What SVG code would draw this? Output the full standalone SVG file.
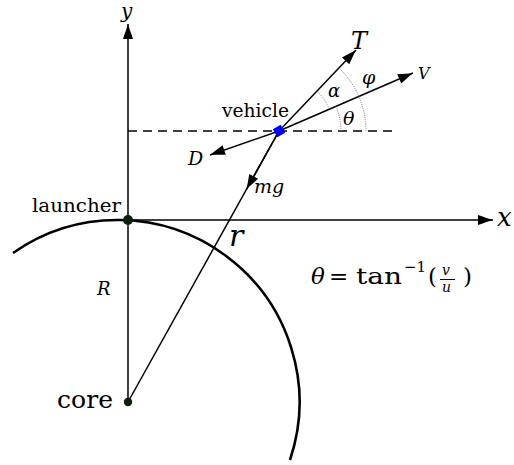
<svg xmlns="http://www.w3.org/2000/svg" width="514" height="465" viewBox="0 0 514 465">
<style>
text{font-family:"DejaVu Serif",serif;fill:#000}
.it{font-style:italic}
.ln{stroke:#000;stroke-width:1.5;fill:none}
.ang{stroke:#777;stroke-width:1;fill:none;stroke-dasharray:1 1.2}
</style>
<defs>
<marker id="ah" markerUnits="userSpaceOnUse" markerWidth="18" markerHeight="14" refX="0" refY="0" viewBox="-16 -7 18 14" orient="auto" overflow="visible">
<path d="M0,0 C-4,-1 -10,-3.5 -15,-5 L-15,5 C-10,3.5 -4,1 0,0Z" fill="#000"/>
</marker>
</defs>
<rect width="514" height="465" fill="#fff"/>
<g id="earth">
<path d="M13,253 A182,182 0 0 1 290,460" stroke="#000" stroke-width="2.6" fill="none"/>
</g>
<g id="connectors">
<line class="ln" x1="128" y1="402" x2="128" y2="24" marker-end="url(#ah)"/>
<line class="ln" x1="128" y1="220" x2="493" y2="220" marker-end="url(#ah)"/>
<line class="ln" x1="128" y1="131" x2="398" y2="131" stroke-dasharray="9 6" stroke-width="1.2"/>
<line class="ln" x1="128" y1="402" x2="279" y2="131"/>
<line class="ln" x1="279" y1="131" x2="246.4" y2="189.5" marker-end="url(#ah)"/>
<line class="ln" x1="279" y1="131" x2="356" y2="50" marker-end="url(#ah)"/>
<line class="ln" x1="279" y1="131" x2="413" y2="73" marker-end="url(#ah)"/>
<line class="ln" x1="279" y1="131" x2="210" y2="155" marker-end="url(#ah)"/>
<path class="ang" d="M341,131 A62,62 0 0 0 335.9,106.3"/>
<path class="ang" d="M329.4,109.1 A55,55 0 0 0 316.9,91.1"/>
<path class="ang" d="M366,131 A87,87 0 0 0 338.9,67.9"/>
</g>
<g id="launcher">
<circle cx="128" cy="220" r="5" fill="#0b1f0b"/>
<text x="32" y="212" font-size="19" textLength="89" lengthAdjust="spacingAndGlyphs">launcher</text>
</g>
<g id="core">
<circle cx="128" cy="402" r="4.2" fill="#0b1f0b"/>
<text x="57" y="408" font-size="25" textLength="56" lengthAdjust="spacingAndGlyphs">core</text>
</g>
<g id="vehicle">
<rect x="274.5" y="126.5" width="9" height="9" fill="#0000ff" transform="rotate(-30 279 131)"/>
<text x="222" y="117" font-size="19" textLength="67" lengthAdjust="spacingAndGlyphs">vehicle</text>
</g>
<g id="labels">
<text class="it" x="121" y="18" font-size="20">y</text>
<text class="it" x="497" y="226" font-size="26">x</text>
<text class="it" x="351" y="49" font-size="24">T</text>
<text class="it" x="418" y="79" font-size="16">V</text>
<text class="it" x="188" y="165" font-size="19">D</text>
<text class="it" x="254" y="193" font-size="19">mg</text>
<text class="it" x="362" y="84" font-size="19">φ</text>
<text class="it" x="328" y="97" font-size="18">α</text>
<text class="it" x="343" y="125" font-size="19">θ</text>
<text class="it" x="229" y="246" font-size="30">r</text>
<text class="it" x="97" y="295" font-size="18">R</text>
</g>
<g id="formula">
<text class="it" x="311" y="284" font-size="23">θ</text>
<text x="329" y="284" font-size="23">=</text>
<text x="356" y="284" font-size="23" textLength="46" lengthAdjust="spacingAndGlyphs">tan</text>
<text x="404" y="272" font-size="15">−1</text>
<text x="428" y="284" font-size="23">(</text>
<text class="it" x="442" y="275" font-size="14">v</text>
<line x1="440" y1="279.5" x2="455" y2="279.5" stroke="#000" stroke-width="1"/>
<text class="it" x="442" y="292" font-size="14">u</text>
<text x="463" y="284" font-size="23">)</text>
</g>
</svg>
